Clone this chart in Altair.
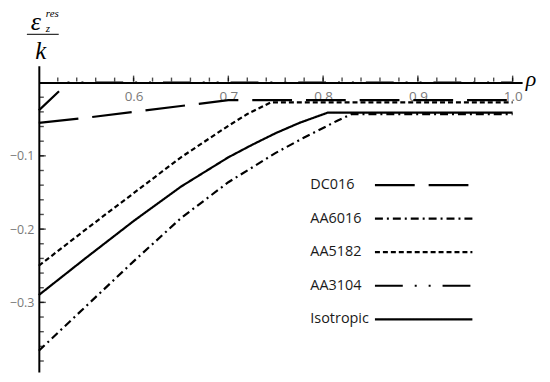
import altair as alt
import pandas as pd

series = ["DC016", "AA6016", "AA5182", "AA3104", "Isotropic"]
dashes = [[40, 14], [8, 4, 2, 4], [5, 3], [28, 12, 2, 12, 2, 12], [1, 0]]

rho_dc016 = [0.5, 0.55, 0.6, 0.65, 0.70, 1.0]
val_dc016 = [-0.055, -0.048, -0.040, -0.032, -0.024, -0.024]

rho_aa6016 = [0.5, 0.55, 0.6, 0.65, 0.7, 0.75, 0.78, 0.8, 0.815, 0.83, 1.0]
val_aa6016 = [-0.366, -0.305, -0.244, -0.185, -0.136, -0.096, -0.075, -0.062, -0.052, -0.043, -0.043]

rho_aa5182 = [0.5, 0.55, 0.6, 0.65, 0.7, 0.72, 0.745, 1.0]
val_aa5182 = [-0.25, -0.2, -0.151, -0.102, -0.059, -0.043, -0.027, -0.027]

rho_aa3104 = [0.5, 0.531, 1.0]
val_aa3104 = [-0.038, 0.0, 0.0]

rho_iso = [0.5, 0.55, 0.6, 0.65, 0.7, 0.725, 0.75, 0.775, 0.805, 1.0]
val_iso = [-0.29, -0.239, -0.189, -0.142, -0.102, -0.085, -0.069, -0.055, -0.041, -0.041]

x_major = [0.6, 0.7, 0.8, 0.9, 1.0]
x_minor = [round(0.52 + 0.02 * i, 2) for i in range(25)]
y_major = [-0.1, -0.2, -0.3]
y_minor = [round(-0.02 * i, 2) for i in range(1, 20)]

rows = []
for name, rr, vv in [("DC016", rho_dc016, val_dc016), ("AA6016", rho_aa6016, val_aa6016),
                     ("AA5182", rho_aa5182, val_aa5182), ("AA3104", rho_aa3104, val_aa3104),
                     ("Isotropic", rho_iso, val_iso)]:
    for i, (r, v) in enumerate(zip(rr, vv)):
        rows.append({"series": name, "rho": r, "val": v, "ord": i})
df = pd.DataFrame(rows)

W, H = 486, 308
xdom = [0.5, 1.01]
ydom = [-0.395, 0.023]
zero_off = -round(ydom[1] / (ydom[1] - ydom[0]) * H, 1)

xs = alt.Scale(domain=xdom, nice=False, zero=False)
ys = alt.Scale(domain=ydom, nice=False, zero=False)
dash_enc = alt.StrokeDash("series:N", scale=alt.Scale(domain=series, range=dashes), legend=None)

label_font = "Open Sans"
gray = "#7a7a7a"

lines = alt.Chart(df).mark_line(color="black", strokeWidth=2.2).encode(
    x=alt.X("rho:Q", scale=xs, axis=alt.Axis(
        orient="top", offset=zero_off, values=x_major, format=".1f", ticks=False, tickSize=0,
        domainColor="black", domainWidth=2, grid=False, title=None,
        labelPadding=-7, labelBaseline="top", labelColor=gray,
        labelFontSize=13.5, labelFont=label_font, labelFlush=False)),
    y=alt.Y("val:Q", scale=ys, axis=alt.Axis(
        orient="right", offset=-W, values=y_major, format=".1f", ticks=False, tickSize=0,
        domainColor="black", domainWidth=2, grid=False, title=None,
        labelPadding=-5, labelAlign="right", labelBaseline="middle",
        labelColor=gray, labelFontSize=12.5, labelFont=label_font, labelFlush=False)),
    strokeDash=dash_enc,
    detail="series:N",
    order="ord:Q",
)

def xticks(vals, size, off):
    d = pd.DataFrame({"v": vals})
    return alt.Chart(d).transform_calculate(z="0").mark_tick(
        orient="vertical", color="black", thickness=1.4, size=size, yOffset=off
    ).encode(x=alt.X("v:Q", scale=xs, axis=None), y=alt.Y("z:Q", scale=ys, axis=None))

def yticks(vals, size, off):
    d = pd.DataFrame({"v": vals})
    return alt.Chart(d).transform_calculate(z="0.5").mark_tick(
        orient="horizontal", color="black", thickness=1.4, size=size, xOffset=off
    ).encode(y=alt.Y("v:Q", scale=ys, axis=None), x=alt.X("z:Q", scale=xs, axis=None))

tk1 = xticks(x_minor, 4, -3)
tk2 = xticks(x_major, 6, -4)
tk3 = yticks(y_minor, 4, 3)
tk4 = yticks(y_major, 6, 4)

leg_df = pd.DataFrame({"series": series, "idx": list(range(len(series)))})
leg_base = alt.Chart(leg_df).transform_calculate(ly="120 + 33.75 * datum.idx")
leg_text = leg_base.mark_text(align="left", baseline="middle", fontSize=14.5, font=label_font,
                              color="#1a1a1a").encode(
    x=alt.value(273), y=alt.Y("ly:Q", scale=None), text="series:N")
leg_line = leg_base.mark_rule(color="black", strokeWidth=2.2).encode(
    x=alt.value(338), x2=alt.value(436), y=alt.Y("ly:Q", scale=None), strokeDash=dash_enc)

one = pd.DataFrame({"a": [0]})
serif = "Liberation Serif"
t_eps = alt.Chart(one).mark_text(text="ε", font=serif, fontStyle="italic", fontSize=26,
                                 align="center", baseline="middle").encode(
    x=alt.value(-3), y=alt.value(-44))
t_res = alt.Chart(one).mark_text(text="res", font=serif, fontStyle="italic", fontSize=11,
                                 align="left", baseline="alphabetic").encode(
    x=alt.value(7), y=alt.value(-49))
t_z = alt.Chart(one).mark_text(text="z", font=serif, fontStyle="italic", fontSize=11,
                               align="left", baseline="middle").encode(
    x=alt.value(7), y=alt.value(-37))
t_bar = alt.Chart(one).mark_rule(color="#333333", strokeWidth=1.3).encode(
    x=alt.value(-12), x2=alt.value(20), y=alt.value(-31.5))
t_k = alt.Chart(one).mark_text(text="k", font=serif, fontStyle="italic", fontSize=25,
                               align="center", baseline="middle").encode(
    x=alt.value(2), y=alt.value(-15))
t_rho = alt.Chart(one).mark_text(text="ρ", font=serif, fontStyle="italic", fontSize=22,
                                 align="center", baseline="middle").encode(
    x=alt.value(495), y=alt.value(13))

chart = alt.layer(lines, tk1, tk2, tk3, tk4, leg_line, leg_text,
                  t_eps, t_res, t_z, t_bar, t_k, t_rho).resolve_axis(
    x="independent", y="independent"
).properties(
    width=W, height=H, autosize=alt.AutoSizeParams(type="none"),
    padding={"left": 31, "top": 57, "right": 20, "bottom": 5},
).configure_view(strokeWidth=0)

chart.save("out.html", embed_options={"renderer": "svg", "actions": False})
